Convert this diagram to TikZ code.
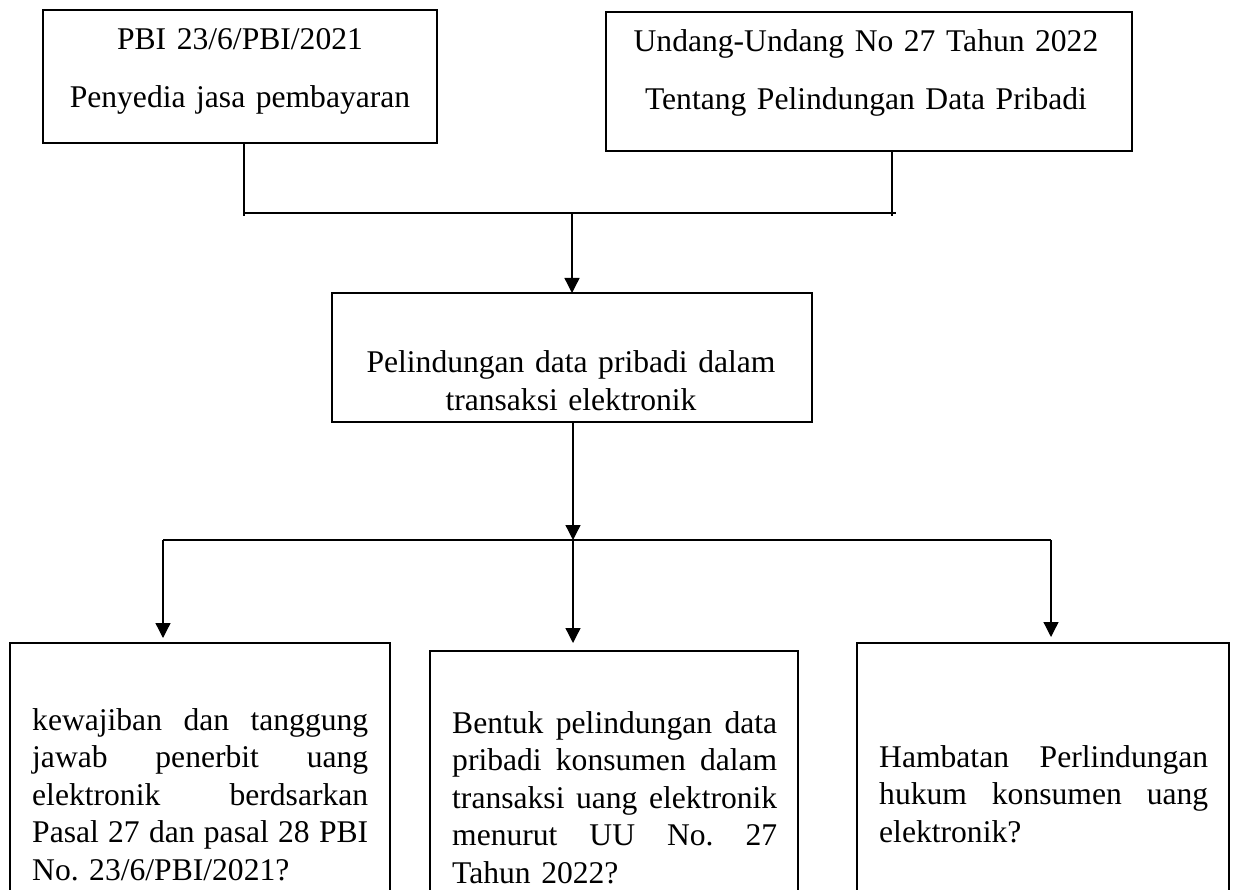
\documentclass[tikz,border=0pt]{standalone}
\usepackage{fontspec}
\setmainfont{Liberation Serif}
\usetikzlibrary{arrows.meta}
\frenchspacing
\newcommand\jline[2]{\leavevmode\hbox to #1{#2}}
\tikzset{
  boxnode/.style={draw=black, line width=2.6pt, rectangle, inner sep=0pt, outer sep=0pt, anchor=north west},
  conn/.style={draw=black, line width=1.3pt},
  arr/.style={conn, -{Triangle[length=15pt,width=15pt]}},
  toptext/.style={anchor=base, inner sep=0pt, text width=520pt, align=center, font=\fontsize{31.6}{58}\selectfont},
  bodytext/.style={anchor=base west, inner sep=0pt, align=left, font=\fontsize{31.6}{37.6}\selectfont},
  midtext/.style={anchor=base, inner sep=0pt, text width=470pt, align=center, font=\fontsize{31.6}{38}\selectfont}
}
\begin{document}
\begin{tikzpicture}[x=1pt, y=-1pt]
\useasboundingbox (0,0) rectangle (1233,890);
\clip (0,0) rectangle (1233,890);
\fill[white] (0,0) rectangle (1233,890);

% top boxes
\node[boxnode, minimum width=394pt, minimum height=133pt] (tl) at (43,10) {};
\node[toptext] (tlt) at (240,50) {PBI 23/6/PBI/2021\\Penyedia jasa pembayaran};
\node[boxnode, minimum width=526pt, minimum height=139pt] (tr) at (606,12) {};
\node[toptext] (trt) at (866,52) {Undang-Undang No 27 Tahun 2022\\Tentang Pelindungan Data Pribadi};

% middle box
\node[boxnode, minimum width=480pt, minimum height=129pt] (mid) at (332,293) {};
\node[midtext] (midt) at (571,372) {Pelindungan data pribadi dalam\\transaksi elektronik};

% bottom boxes
\node[boxnode, minimum width=380pt, minimum height=320pt] (b1) at (10,643) {};
\node[boxnode, minimum width=368pt, minimum height=320pt] (b2) at (430,651) {};
\node[boxnode, minimum width=372pt, minimum height=320pt] (b3) at (857,643) {};

\node[bodytext, text width=336pt] (b1t) at (32,730) {%
\jline{336pt}{kewajiban\hfill dan\hfill tanggung}\\
\jline{336pt}{jawab\hfill penerbit\hfill uang}\\
\jline{336pt}{elektronik\hfill berdsarkan}\\
\jline{336pt}{Pasal\hfill 27\hfill dan\hfill pasal\hfill 28\hfill PBI}\\
No. 23/6/PBI/2021?};
\node[bodytext, text width=325pt] (b2t) at (452,733) {%
\jline{325pt}{Bentuk\hfill pelindungan\hfill data}\\
\jline{325pt}{pribadi\hfill konsumen\hfill dalam}\\
\jline{325pt}{transaksi\hfill uang\hfill elektronik}\\
\jline{325pt}{menurut\hfill UU\hfill No.\hfill 27}\\
Tahun 2022?};
\node[bodytext, text width=329pt] (b3t) at (879,767) {%
\jline{329pt}{Hambatan\hfill Perlindungan}\\
\jline{329pt}{hukum\hfill konsumen\hfill uang}\\
elektronik?};

% junction coordinates
\coordinate (jl) at (244,213);
\coordinate (jr) at (892,213);
\coordinate (jm) at (572,213);
\coordinate (jb) at (573,540);
\coordinate (bl) at (163,540);
\coordinate (br) at (1051,540);

% top connectors
\draw[conn] (tl.south -| jl) -- ([yshift=-3pt]jl);
\draw[conn] (tr.south -| jr) -- ([yshift=-3pt]jr);
\draw[conn] (jl) -- ([xshift=4pt]jr);
\draw[arr] (jm) -- (mid.north -| jm);

% lower connectors
\draw[arr] (mid.south -| jb) -- (jb);
\draw[conn] (bl) -- (br);
\draw[arr, shorten >=5pt] (bl) -- (bl |- b1.north);
\draw[arr, shorten >=8pt] (jb) -- (jb |- b2.north);
\draw[arr, shorten >=6pt] (br) -- (br |- b3.north);
\end{tikzpicture}
\end{document}
